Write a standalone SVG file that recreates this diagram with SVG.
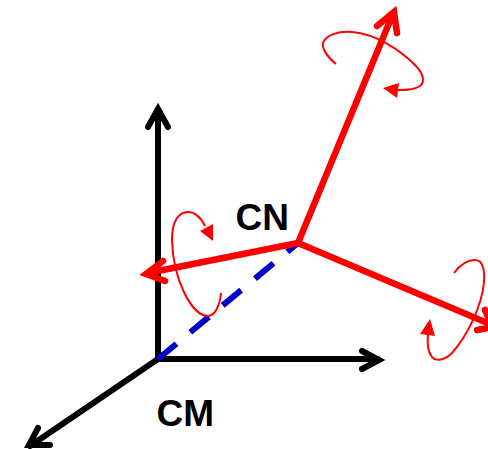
<svg xmlns="http://www.w3.org/2000/svg" width="488" height="449" viewBox="0 0 488 449">
<style>
.k{fill:none;stroke:#000;stroke-width:6;stroke-linecap:round;stroke-linejoin:miter}
.r{fill:none;stroke:#f00;stroke-width:6.5;stroke-linecap:round;stroke-linejoin:miter}
.t{fill:none;stroke:#f00;stroke-width:2}
.h{fill:#f00}
.l{font-family:"Liberation Sans",Arial,sans-serif;font-weight:bold;font-size:37px;fill:#000}
</style>
<rect width="488" height="449" fill="#fff"/>
<g id="connectors">
<path class="k" d="M158 359V110M148 127L158 109L168 127"/>
<path class="k" d="M158 359H378M362 351L379 360L362 369"/>
<path class="k" d="M158 359L30 446M38 428L29 445L50 445"/>
<path d="M158 359L298 243" fill="none" stroke="#0000c8" stroke-width="6" stroke-dasharray="24 18"/>
<path class="r" d="M298 243L392 16M377 26L394 12L397 33"/>
<path class="r" d="M298 243L148 273M163 261L146 274L165 281"/>
<path class="r" d="M298 243L492 325M485 310L493 327L477 330"/>
</g>
<g id="rot-top">
<path class="t" d="M336 64C326 56 322 48 323 43C326 35 338 31 352 32C376 34 400 50 415 65C424 74 425 82 420 86C414 90 406 90 398 90"/>
<polygon class="h" points="383,88 399,83 397,98"/>
</g>
<g id="rot-left">
<path class="t" d="M221 293C220 305 215 316 208 316C192 316 173 280 172 240C172 222 178 212 188 212C195 212 201 218 205 226"/>
<polygon class="h" points="213,241 200,231 213,224"/>
</g>
<g id="rot-right">
<path class="t" d="M454 273C460 265 468 260 475 260C482 260 485 268 484 282C482 305 468 335 452 353C445 360 436 362 432 357C428 352 427 344 428 335"/>
<polygon class="h" points="430,319 420,334 435,336"/>
</g>
<g id="label-cn"><text class="l" x="235.5" y="230">CN</text></g>
<g id="label-cm"><text class="l" x="156.5" y="426">CM</text></g>
</svg>
